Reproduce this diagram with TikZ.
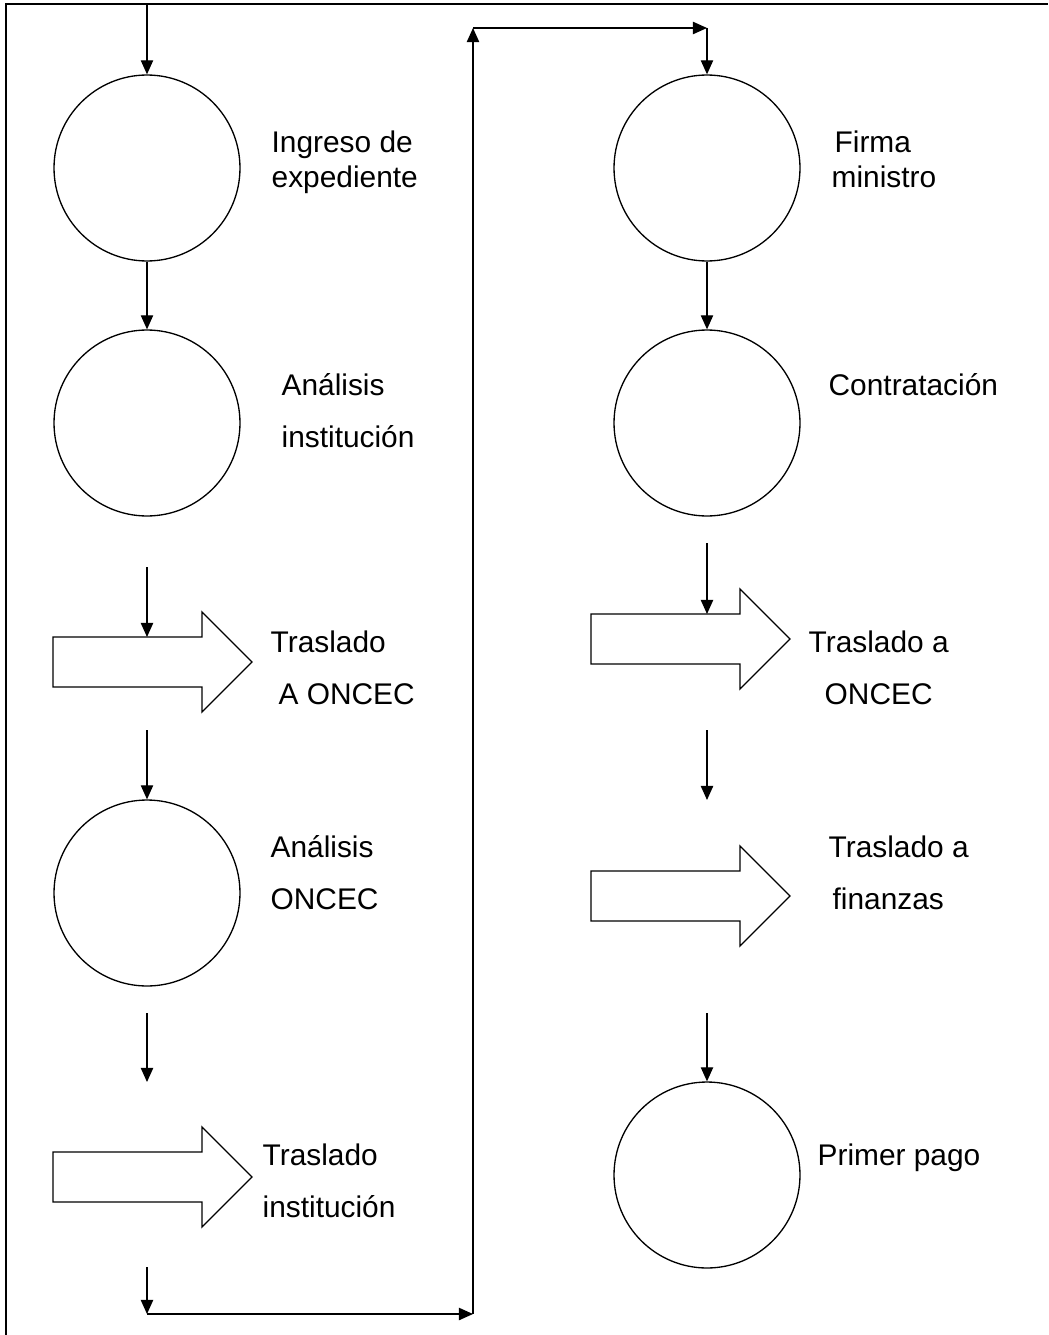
\documentclass[tikz,border=0pt]{standalone}
\usepackage{fontspec}
\setmainfont{Liberation Sans}
\usetikzlibrary{arrows.meta}

\begin{document}
\begin{tikzpicture}[x=0.02cm,y=-0.02cm,>={Triangle[length=8pt,width=7pt]},line width=0.75pt,
  etapa/.style={circle,draw,minimum size=3.72cm,inner sep=0pt},
  rotulo/.style={anchor=base west,align=left,inner sep=0pt,font=\fontsize{17}{19.4}\selectfont},
  traslado/.pic={\draw (0,-25) -- (149,-25) -- (149,-50) -- (199,0) -- (149,50) -- (149,25) -- (0,25) -- cycle;}]
\useasboundingbox (0,0) rectangle (1048,1335);
% marco
\draw (6,1335) -- (6,4) -- (1048,4);

% columna izquierda
\node[etapa] (ingreso) at (147,168) {};
\node[etapa] (anainst) at (147,423) {};
\pic at (53,662) {traslado};
\node[etapa] (anaoncec) at (147,893) {};
\pic at (53,1177) {traslado};

% columna derecha
\node[etapa] (firma) at (707,168) {};
\node[etapa] (contrato) at (707,423) {};
\pic at (591,639) {traslado};
\pic at (591,896) {traslado};
\node[etapa] (pago) at (707,1175) {};

% rotulos (base = ultima linea)
\node[rotulo] (lingreso) at (271,187) {Ingreso de\\expediente};
\node[rotulo] (lanainst) at (281,447) {Análisis\\[10pt]institución};
\node[rotulo] (ltras1) at (270,704) {Traslado\\[10pt]\hspace*{0.16cm}A ONCEC};
\node[rotulo] (lanaoncec) at (270,909) {Análisis\\[10pt]ONCEC};
\node[rotulo] (ltras2) at (262,1217) {Traslado\\[10pt]institución};
\node[rotulo] (lfirma) at (831,187) {\hspace*{0.06cm}Firma\\ministro};
\node[rotulo] (lcontrato) at (828,395) {Contratación};
\node[rotulo,align=center] (ltras3) at (808,704) {Traslado a\\[10pt]ONCEC};
\node[rotulo] (ltras4) at (828,909) {Traslado a\\[10pt]\hspace*{0.08cm}finanzas};
\node[rotulo] (lpago) at (817,1165) {Primer pago};

% puntos de union
\coordinate (inicio) at (147,4);
\coordinate (a1) at (147,567);
\coordinate (t1top) at (147,637);
\coordinate (a2) at (147,730);
\coordinate (a3) at (147,1013);
\coordinate (a3e) at (147,1082);
\coordinate (a4) at (147,1267);
\coordinate (b1) at (147,1314);
\coordinate (b2) at (473,1314);
\coordinate (b3) at (473,28);
\coordinate (b4) at (707,28);
\coordinate (d1) at (707,543);
\coordinate (t3top) at (707,614);
\coordinate (d2) at (707,730);
\coordinate (d2e) at (707,800);
\coordinate (d3) at (707,1013);

\draw[->] (inicio) -- (ingreso);
\draw[->] (ingreso) -- (anainst);
\draw[->] (a1) -- (t1top);
\draw[->] (a2) -- (anaoncec);
\draw[->] (a3) -- (a3e);
\draw[->] (a4) -- (b1);
\draw[->] (b1) -- (b2);
\draw[->] (b2) -- (b3);
\draw[->] (b3) -- (b4);
\draw[->] (b4) -- (firma);
\draw[->] (firma) -- (contrato);
\draw[->] (d1) -- (t3top);
\draw[->] (d2) -- (d2e);
\draw[->] (d3) -- (pago);
\end{tikzpicture}
\end{document}
